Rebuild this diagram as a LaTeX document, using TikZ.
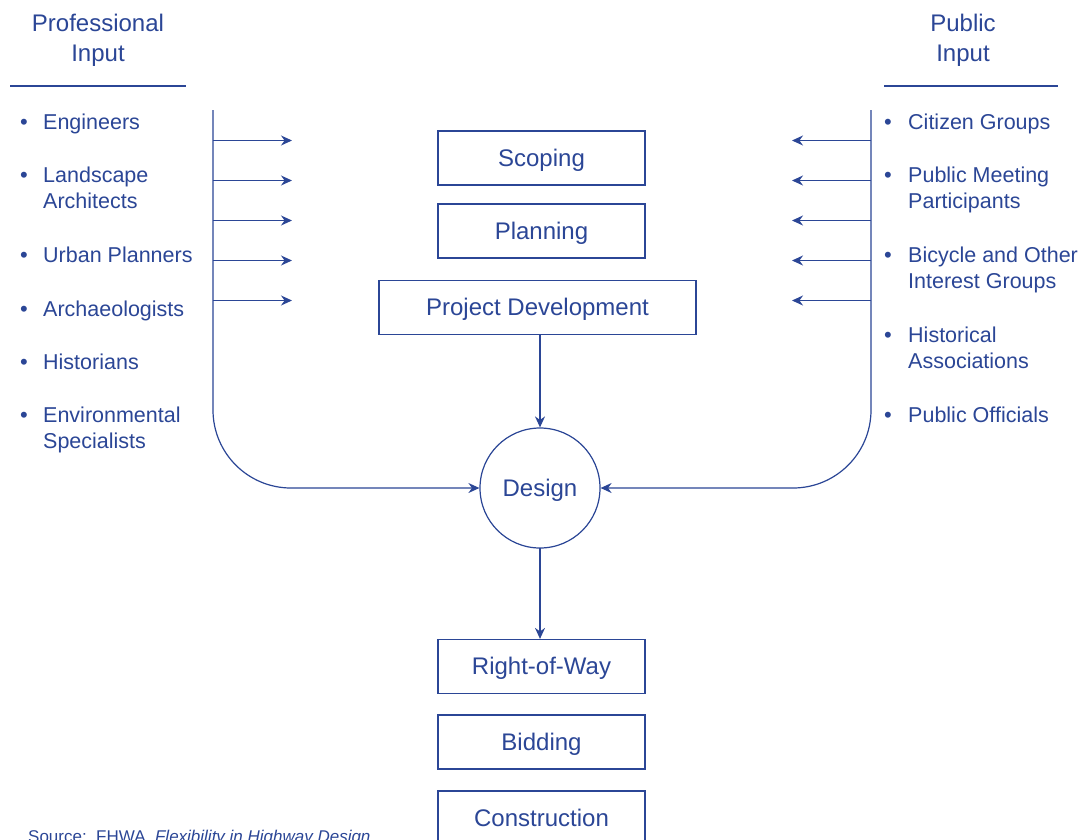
\documentclass[tikz,border=0pt]{standalone}
\usepackage{fontspec}
\setmainfont{Liberation Sans}
\usetikzlibrary{arrows.meta}
\definecolor{fblue}{RGB}{43,70,150}
\begin{document}
\begin{tikzpicture}[x=1pt,y=-1pt,
  every node/.style={text=fblue},
  stage/.style={draw=fblue,line width=1.2pt,minimum width=207pt,minimum height=54pt,inner sep=0pt,
    font=\fontsize{24}{28}\selectfont,text height=19pt,text depth=3pt},
  head/.style={font=\fontsize{24}{30}\selectfont,align=center,anchor=base,inner sep=0pt},
  item/.style={font=\fontsize{21.5}{26}\selectfont,align=left,anchor=base west,inner sep=0pt},
  bul/.style={font=\fontsize{22}{24}\selectfont,anchor=base,inner sep=0pt},
  ln/.style={draw=fblue,line width=1.2pt},
  arr/.style={ln,-{Stealth[length=11pt,width=10pt]}}]
\clip (0,0) rectangle (1086,839);
\fill[white] (0,0) rectangle (1086,839);

% headers
\node[head] (ph) at (98,61) {Professional\\Input};
\node[head] (uh) at (963,61) {Public\\Input};
\coordinate (pl1) at (10,86); \coordinate (pl2) at (186,86);
\coordinate (ul1) at (884,86); \coordinate (ul2) at (1058,86);
\draw[ln] (pl1) -- (pl2);
\draw[ln] (ul1) -- (ul2);

% left list
\foreach \y/\t [count=\i] in {129/Engineers, 208/{Landscape\\Architects}, 262/Urban Planners, 316/Archaeologists, 369/Historians, 448/{Environmental\\Specialists}}{
  \node[item] (li\i) at (43,\y) {\t};
}
\foreach \y [count=\i] in {129,182,262,316,369,422}{
  \node[bul] (lb\i) at (24,\y) {•};
}
% right list
\foreach \y/\t [count=\i] in {129/Citizen Groups, 208/{Public Meeting\\Participants}, 288/{Bicycle and Other\\Interest Groups}, 368/{Historical\\Associations}, 422/Public Officials}{
  \node[item] (ri\i) at (908,\y) {\t};
}
\foreach \y [count=\i] in {129,182,262,342,422}{
  \node[bul] (rb\i) at (888,\y) {•};
}

% stages
\node[stage] (scop) at (541.5,158) {Scoping};
\node[stage] (plan) at (541.5,231) {Planning};
\node[stage,minimum width=317pt] (pd) at (537.5,307.5) {Project Development};
\node[draw=fblue,line width=1.2pt,circle,minimum size=120pt,inner sep=0pt,font=\fontsize{24}{28}\selectfont,text height=19pt,text depth=3pt] (des) at (540,488) {Design};
\node[stage] (row) at (541.5,666.5) {Right-of-Way};
\node[stage] (bid) at (541.5,742) {Bidding};
\node[stage] (con) at (541.5,818) {Construction};

% connectors
\coordinate (pdb) at (540,334);
\coordinate (desb) at (540,548);
\draw[arr] (pdb) -- (des.north);
\draw[arr] (desb) -- (row.north -| desb);

\coordinate (lt) at (213,110);
\coordinate (rt) at (871,110);
\draw[arr,rounded corners=78pt] (lt) |- (des.west);
\draw[arr,rounded corners=78pt] (rt) |- (des.east);

\foreach \y [count=\i] in {140.5,180.5,220.5,260.5,300.5}{
  \coordinate (la\i) at (213,\y); \coordinate (lz\i) at (292,\y);
  \draw[arr] (la\i) -- (lz\i);
  \coordinate (ra\i) at (871,\y); \coordinate (rz\i) at (792,\y);
  \draw[arr] (ra\i) -- (rz\i);
}

% source
\node[font=\fontsize{17}{20}\selectfont,anchor=base west,inner sep=0pt] (src) at (28,842) {Source:\ \ FHWA, \textit{Flexibility in Highway Design}};
\end{tikzpicture}
\end{document}
